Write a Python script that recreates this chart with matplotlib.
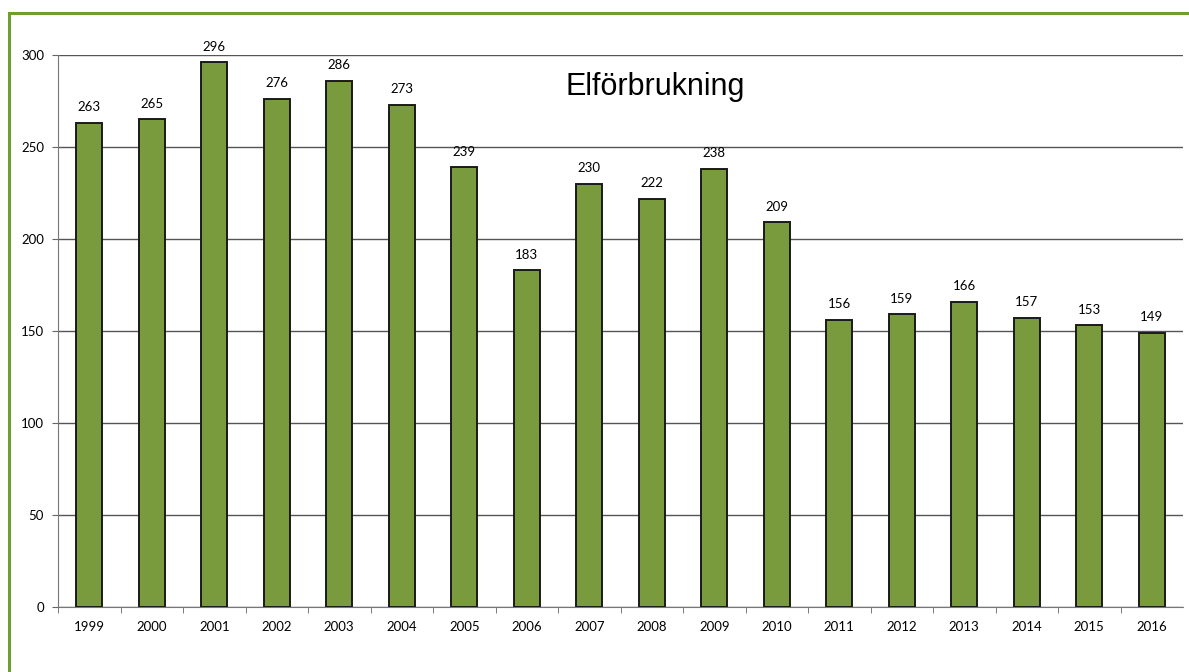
import matplotlib.pyplot as plt
from matplotlib.lines import Line2D

years = ["1999", "2000", "2001", "2002", "2003", "2004", "2005", "2006", "2007",
         "2008", "2009", "2010", "2011", "2012", "2013", "2014", "2015", "2016"]
values = [263, 265, 296, 276, 286, 273, 239, 183, 230, 222, 238, 209,
          156, 159, 166, 157, 153, 149]
title = "Elförbrukning"

plt.rcParams['font.family'] = ['Lato', 'DejaVu Sans']

fig = plt.figure(figsize=(11.89, 6.72), dpi=100)
ax = fig.add_axes([58/1189, 1-607/672, (1183-58)/1189, (607-55)/672])

x = list(range(len(years)))
bars = ax.bar(x, values, width=0.42, color="#7a9a3e", edgecolor="#1a1a1a", linewidth=1.4, zorder=3)

ax.set_xlim(-0.5, len(years) - 0.5)
ax.set_ylim(0, 300)
ax.set_yticks([0, 50, 100, 150, 200, 250, 300])
ax.yaxis.grid(True, color="#555555", linewidth=1.0, zorder=0)
ax.set_axisbelow(True)

ax.set_xticks(x)
ax.set_xticklabels(years, fontsize=9.5)
ax.set_xticks([i + 0.5 for i in x[:-1]] + [-0.5], minor=True)
ax.tick_params(axis='x', which='major', length=0, pad=10)
ax.tick_params(axis='x', which='minor', length=4, color="#666666", direction='out')
ax.tick_params(axis='y', labelsize=9.5, length=4, color="#666666", pad=6)

for s in ['top', 'right']:
    ax.spines[s].set_visible(False)
ax.spines['left'].set_color("#777777")
ax.spines['bottom'].set_color("#777777")

for xi, v in zip(x, values):
    ax.annotate(str(v), (xi, v), xytext=(0, 7), textcoords='offset points',
                ha='center', va='bottom', fontsize=9.5)

fig.text(655/1189, 1-87/672, title, ha='center', va='center', fontsize=22,
         family=['Liberation Sans', 'DejaVu Sans'])

# green frame
fig.add_artist(Line2D([9/1189, 1.0], [1-13/672, 1-13/672], color="#6e9e2e", linewidth=2.2, transform=fig.transFigure))
fig.add_artist(Line2D([9/1189, 9/1189], [0, 1-13/672], color="#6e9e2e", linewidth=2.2, transform=fig.transFigure))

fig.savefig("out.png", dpi=100)
